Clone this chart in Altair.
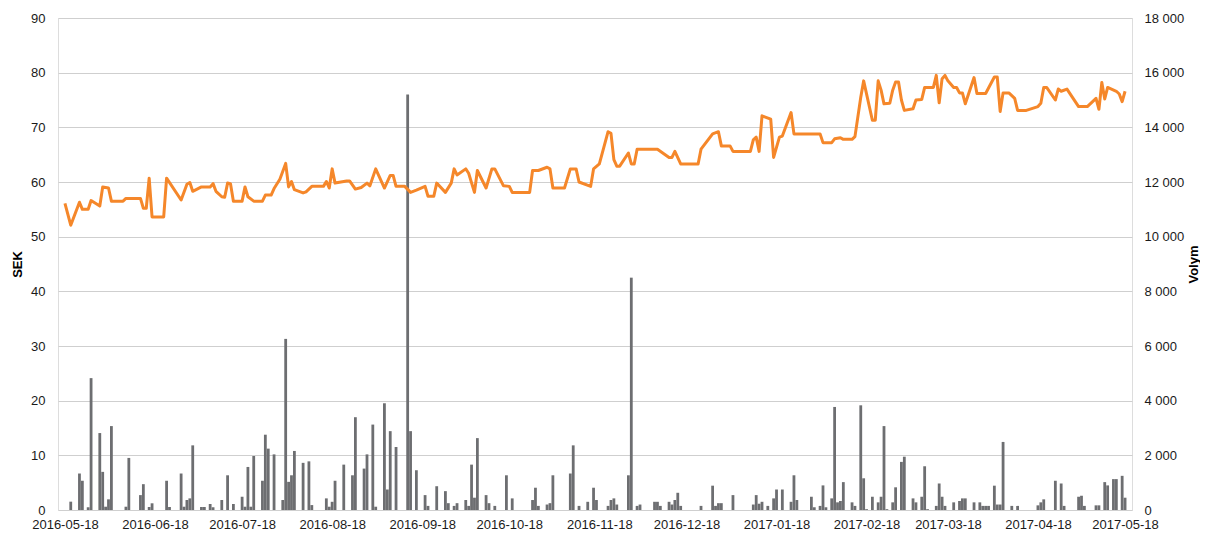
import altair as alt
import pandas as pd

START = "2016-05-18"

# Closing price (SEK): day offset from START and value
price_days = [0, 2, 5, 6, 8, 9, 12, 13, 15, 16, 20, 21, 26, 27, 28, 29, 30, 34, 35, 40,
              42, 43, 44, 47, 50, 51, 52, 54, 55, 56, 57, 58, 61, 62, 63, 65, 68, 69, 71, 72,
              74, 76, 77, 78, 79, 82, 83, 85, 89, 90, 91, 92, 93, 97, 98, 100, 102, 104, 105, 107,
              110, 112, 113, 114, 117, 119, 121, 124, 125, 127, 128, 131, 133, 134, 135, 138, 139, 141, 142, 145,
              147, 148, 151, 153, 154, 160, 161, 163, 166, 167, 168, 172, 174, 176, 177, 181, 182, 184, 187, 188,
              189, 190, 191, 194, 195, 196, 197, 204, 208, 209, 210, 212, 218, 219, 223, 225, 226, 229, 230, 236,
              237, 238, 239, 240, 243, 244, 246, 247, 250, 251, 260, 261, 264, 265, 267, 268, 271, 272, 274, 275,
              278, 279, 280, 281, 282, 284, 285, 286, 287, 288, 289, 292, 293, 295, 296, 299, 300, 301, 302, 303,
              304, 306, 307, 308, 309, 310, 313, 314, 317, 320, 321, 322, 323, 325, 327, 328, 331, 335, 336, 337,
              338, 341, 342, 343, 345, 349, 352, 355, 356, 357, 358, 359, 362, 363, 364, 365]
price_sek = [56.1, 52.1, 56.3, 55.0, 55.0, 56.6, 55.6, 59.1, 58.9, 56.5, 56.5, 57.0, 57.0, 55.2, 55.2, 60.7, 53.6, 53.6, 60.7, 56.7,
             59.6, 59.9, 58.3, 59.1, 59.1, 59.7, 58.3, 57.3, 57.2, 59.8, 59.7, 56.5, 56.5, 59.1, 57.3, 56.5, 56.5, 57.6, 57.6, 58.8,
             60.5, 63.4, 59.1, 60.1, 58.6, 58.0, 58.2, 59.2, 59.2, 60.1, 58.9, 62.4, 59.8, 60.2, 60.2, 58.7, 59.0, 59.8, 59.3, 62.4,
             58.9, 61.2, 61.2, 59.2, 59.2, 58.1, 58.5, 59.2, 57.4, 57.4, 59.8, 58.1, 59.8, 62.4, 61.3, 62.4, 61.6, 58.1, 62.1, 58.9,
             62.4, 62.4, 59.3, 59.2, 58.1, 58.1, 62.1, 62.1, 62.7, 62.4, 58.9, 58.9, 62.4, 62.4, 60.0, 59.2, 62.4, 63.3, 69.2, 68.9,
             64.1, 62.9, 62.9, 65.3, 63.3, 63.3, 66.0, 66.0, 64.5, 64.5, 65.6, 63.3, 63.3, 66.0, 68.8, 69.2, 66.6, 66.6, 65.6, 65.6,
             67.7, 68.2, 65.6, 72.1, 71.5, 64.5, 68.2, 68.4, 72.7, 68.8, 68.8, 67.2, 67.2, 67.9, 68.1, 67.8, 67.8, 68.3, 75.5, 78.5,
             71.3, 71.3, 78.5, 76.8, 74.3, 74.4, 76.8, 78.3, 78.3, 75.0, 73.1, 73.4, 75.0, 75.1, 77.3, 77.3, 79.5, 74.5, 78.9, 79.5,
             78.5, 77.3, 77.3, 76.3, 76.3, 74.3, 79.1, 76.2, 76.2, 79.2, 79.2, 72.9, 76.3, 76.3, 75.3, 73.1, 73.1, 73.8, 74.4, 77.3,
             77.3, 75.0, 77.0, 76.6, 77.0, 73.8, 73.8, 75.3, 73.3, 78.2, 75.2, 77.3, 76.6, 76.1, 74.7, 76.6]

# Traded volume: day offset from START and value
vol_days = [2, 5, 6, 8, 9, 12, 13, 14, 15, 16, 21, 22, 26, 27, 29, 30, 35, 36, 40, 41,
            42, 43, 44, 47, 48, 50, 51, 54, 56, 58, 61, 62, 63, 64, 65, 68, 69, 70, 72, 75,
            76, 77, 78, 79, 82, 84, 85, 90, 91, 92, 93, 96, 99, 100, 103, 104, 106, 107, 110, 111,
            112, 114, 118, 119, 121, 124, 125, 128, 131, 132, 134, 135, 138, 139, 140, 141, 142, 145, 146, 148,
            152, 154, 161, 162, 163, 166, 167, 168, 174, 175, 177, 180, 182, 183, 187, 188, 189, 190, 194, 195,
            197, 198, 203, 204, 205, 208, 209, 210, 211, 212, 219, 223, 224, 225, 226, 230, 237, 238, 239, 240,
            242, 244, 245, 247, 250, 251, 252, 257, 258, 260, 261, 262, 264, 265, 266, 267, 268, 271, 272, 274,
            275, 276, 278, 280, 281, 282, 283, 285, 286, 288, 289, 292, 293, 295, 296, 297, 300, 301, 302, 303,
            306, 308, 309, 310, 313, 315, 316, 317, 318, 320, 321, 322, 323, 326, 328, 335, 336, 337, 341, 343,
            344, 349, 350, 351, 355, 356, 358, 359, 361, 362, 364, 365]
volume = [305, 1335, 1070, 100, 4825, 2815, 1395, 120, 390, 3070, 120, 1905, 545, 945, 110, 245, 1070, 110, 1335, 120,
          365, 425, 2365, 110, 110, 220, 100, 365, 1270, 220, 485, 120, 1575, 120, 1975, 1070, 2755, 2245, 2035, 365,
          6260, 1030, 1270, 2160, 1725, 1780, 180, 425, 120, 300, 1070, 1660, 1270, 3395, 1515, 2035, 3125, 120, 3905, 750,
          2885, 2305, 15200, 2885, 1455, 545, 150, 870, 690, 250, 150, 250, 365, 150, 1660, 450, 2630, 545, 250, 150,
          1270, 425, 365, 815, 150, 200, 250, 1270, 1335, 2365, 150, 300, 815, 365, 150, 365, 425, 200, 1270, 8500,
          150, 200, 300, 300, 150, 300, 200, 365, 630, 150, 150, 890, 150, 250, 250, 545, 200, 545, 230, 300,
          150, 425, 750, 750, 300, 1270, 365, 485, 100, 150, 900, 100, 425, 3770, 280, 330, 1020, 280, 150, 3830,
          1160, 30, 485, 280, 485, 3070, 30, 280, 830, 1760, 1950, 425, 280, 485, 1600, 30, 150, 970, 485, 150,
          280, 330, 425, 425, 280, 280, 150, 150, 150, 890, 200, 200, 2490, 150, 150, 170, 280, 390, 1070, 970,
          150, 485, 525, 150, 170, 170, 1020, 900, 1130, 1130, 1250, 450]

tick_months = [(2016, 5), (2016, 6), (2016, 7), (2016, 8), (2016, 9), (2016, 10), (2016, 11),
               (2016, 12), (2017, 1), (2017, 2), (2017, 3), (2017, 4), (2017, 5)]
sek_ticks = [0, 10, 20, 30, 40, 50, 60, 70, 80, 90]
vol_ticks = [0, 2000, 4000, 6000, 8000, 10000, 12000, 14000, 16000, 18000]

start = pd.Timestamp(START)
price_df = pd.DataFrame({
    "date": [(start + pd.Timedelta(days=d)).strftime("%Y-%m-%d") for d in price_days],
    "SEK": price_sek,
})
vol_df = pd.DataFrame({
    "date": [(start + pd.Timedelta(days=d)).strftime("%Y-%m-%d") for d in vol_days],
    "Volym": volume,
})

FONT = "Liberation Sans"
ORANGE = "#f5872a"
GREY = "#6d6e71"

x_scale = alt.Scale(
    type="utc",
    domain=[alt.DateTime(year=2016, month=5, date=17, hours=8, utc=True),
            alt.DateTime(year=2017, month=5, date=18, hours=16, utc=True)],
)
x_axis = alt.Axis(
    values=[alt.DateTime(year=y, month=m, date=18, utc=True) for y, m in tick_months],
    labelExpr="utcFormat(datum.value, '%Y-%m-%d')",
    title=None, grid=False, domain=False, ticks=False,
    labelPadding=8, labelFontSize=13, labelFont=FONT, labelColor="#1a1a1a",
    labelAngle=0, labelOverlap=False, labelFlush=False,
)

bars = alt.Chart(vol_df).mark_bar(size=2.8, color=GREY).encode(
    x=alt.X("date:T", scale=x_scale, axis=x_axis),
    y=alt.Y("Volym:Q", scale=alt.Scale(domain=[0, 18000], nice=False),
            axis=alt.Axis(orient="right", values=vol_ticks, grid=False, domain=False, ticks=False,
                          labelExpr="replace(format(datum.value, ','), ',', ' ')",
                          labelPadding=12, labelFontSize=13, labelFont=FONT, labelColor="#1a1a1a",
                          title="Volym", titleFont=FONT, titleFontSize=13, titleFontWeight="bold",
                          titleColor="#000000", titleAngle=270, titlePadding=17)),
)

line = alt.Chart(price_df).mark_line(color=ORANGE, strokeWidth=3, strokeJoin="round").encode(
    x=alt.X("date:T", scale=x_scale, axis=x_axis),
    y=alt.Y("SEK:Q", scale=alt.Scale(domain=[0, 90], nice=False),
            axis=alt.Axis(orient="left", values=sek_ticks, grid=True, gridColor="#cfcfcf", gridWidth=1,
                          domain=False, ticks=False,
                          labelPadding=13, labelFontSize=13, labelFont=FONT, labelColor="#1a1a1a",
                          title="SEK", titleFont=FONT, titleFontSize=13, titleFontWeight="bold",
                          titleColor="#000000", titlePadding=6)),
)

chart = alt.layer(bars, line).resolve_scale(y="independent").properties(
    width=1074, height=492,
    autosize=alt.AutoSizeParams(type="none"),
    padding={"left": 50, "top": 10, "right": 68, "bottom": 22},
).configure_view(stroke=None).configure(background="white")

chart.save("out.html", embed_options={"renderer": "svg", "actions": False})
